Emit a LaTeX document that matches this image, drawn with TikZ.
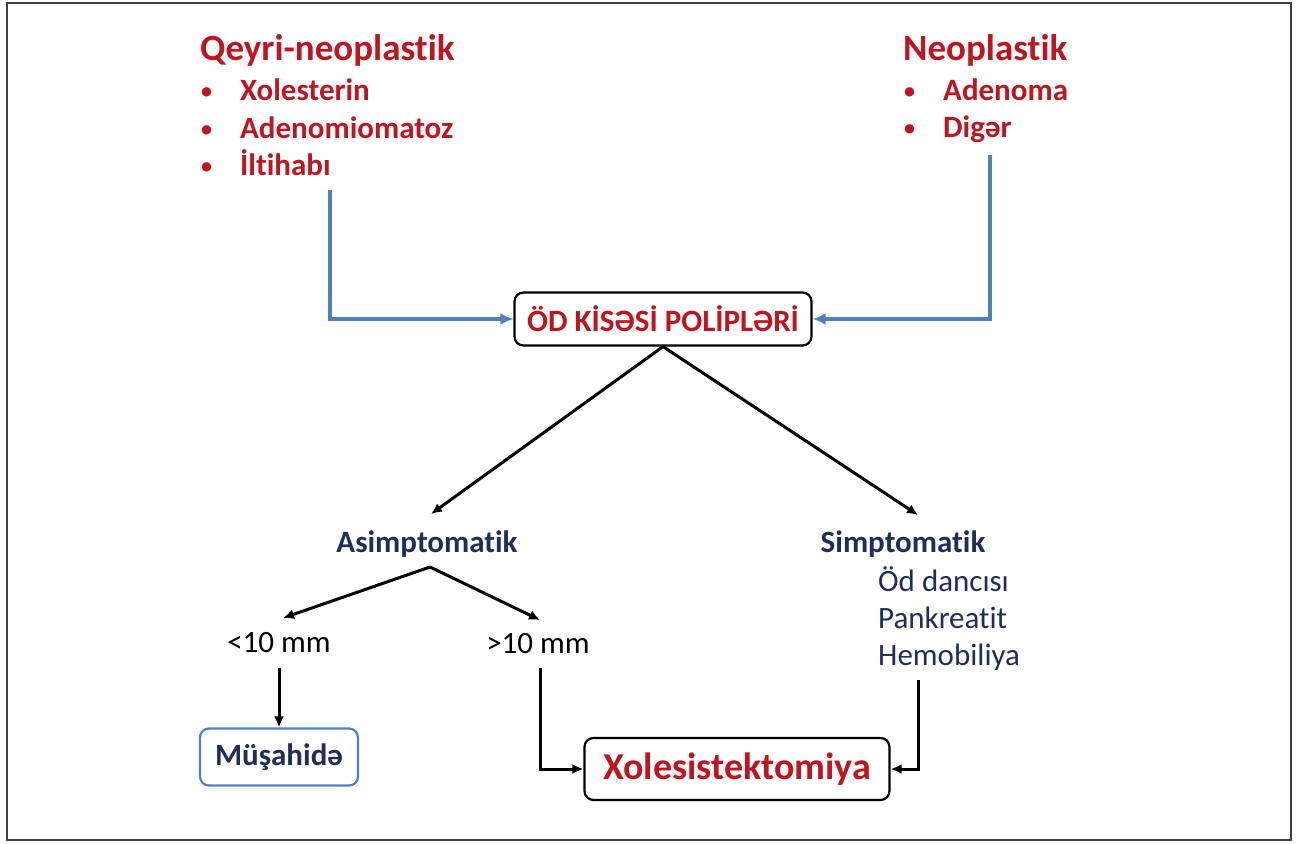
\documentclass[tikz,border=0pt]{standalone}
\usepackage{fontspec}
\setmainfont{Carlito}[Ligatures=NoCommon]
\usetikzlibrary{arrows.meta}
\definecolor{polred}{HTML}{C0141E}
\definecolor{polnavy}{HTML}{1F2D5C}
\definecolor{polblue}{HTML}{4F81BD}
\newcommand{\polbul}{\makebox[39pt][l]{\raisebox{2pt}{\fontsize{22}{22}\selectfont\textbullet}}}
\tikzset{
  head/.style={inner sep=0pt,anchor=base west,text=polred,font=\fontsize{37}{44}\selectfont\bfseries},
  item/.style={inner sep=0pt,anchor=base west,text=polred,font=\fontsize{31}{37}\selectfont\bfseries},
  sub/.style={inner sep=0pt,anchor=base,text=polnavy,font=\fontsize{31}{37}\selectfont\bfseries},
  plain/.style={inner sep=0pt,anchor=base west,font=\fontsize{31}{37}\selectfont},
  rbox/.style={draw,rounded corners=9pt,line width=2.2pt,inner sep=0pt},
  bline/.style={polblue,line width=3.4pt,-{Latex[length=13pt,width=12pt]}},
  kline/.style={black,line width=3pt,-{Latex[length=11pt,width=10pt]}}
}
\begin{document}
\begin{tikzpicture}[x=1pt,y=-1pt]
\useasboundingbox (0,0) rectangle (1297,843);
\draw[black!75,line width=1.5pt] (7,3) rectangle (1291,840);
% sources
\node[head] (nonneo) at (200,60) {Qeyri-neoplastik};
\node[item] (nn1) at (201,100) {\polbul Xolesterin};
\node[item] (nn2) at (201,138) {\polbul Adenomiomatoz};
\node[item] (nn3) at (201,175) {\polbul İltihabı};
\node[head] (neo) at (903,60) {Neoplastik};
\node[item] (ne1) at (904,100) {\polbul Adenoma};
\node[item] (ne2) at (904,137) {\polbul Digər};
\coordinate (nnstart) at (330,190);
\coordinate (nestart) at (990,155);
% centre box
\node[rbox,minimum width=297pt,minimum height=53pt,text=polred,font=\fontsize{31}{37}\selectfont\bfseries] (polyp) at (663,319) {ÖD KİSƏSİ POLİPLƏRİ};
\draw[bline] (nnstart) |- (polyp.west);
\draw[bline] (nestart) |- (polyp.east);
% branches
\node[sub] (asym) at (427,552) {Asimptomatik};
\node[sub] (sym) at (903,552) {Simptomatik};
\node[plain,text=polnavy] (s1) at (878,591) {Öd dancısı};
\node[plain,text=polnavy] (s2) at (878,628) {Pankreatit};
\node[plain,text=polnavy] (s3) at (878,665) {Hemobiliya};
\coordinate (asymtip) at (431,514);
\coordinate (symtip) at (918,515);
\draw[kline] (polyp.south) -- (asymtip);
\draw[kline] (polyp.south) -- (symtip);
\node[plain,anchor=base] (lt10) at (279,652) {<10 mm};
\node[plain,anchor=base] (gt10) at (538,653) {>10 mm};
\coordinate (asplit) at (430,567);
\coordinate (lttip) at (283,618);
\coordinate (gttip) at (540,620);
\draw[kline] (asplit) -- (lttip);
\draw[kline] (asplit) -- (gttip);
% outcomes
\node[rbox,draw=polblue,minimum width=158pt,minimum height=57pt,text=polnavy,font=\fontsize{31}{37}\selectfont\bfseries] (obs) at (279,757) {Müşahidə};
\node[rbox,minimum width=305pt,minimum height=62pt,text=polred,font=\fontsize{38}{45}\selectfont\bfseries] (chol) at (737,769) {Xolesistektomiya};
\coordinate (ltstart) at (279,668);
\coordinate (gtstart) at (540,668);
\coordinate (symstart) at (918,680);
\draw[kline] (ltstart) -- (obs.north);
\draw[kline] (gtstart) |- (chol.west);
\draw[kline] (symstart) |- (chol.east);
\end{tikzpicture}
\end{document}
